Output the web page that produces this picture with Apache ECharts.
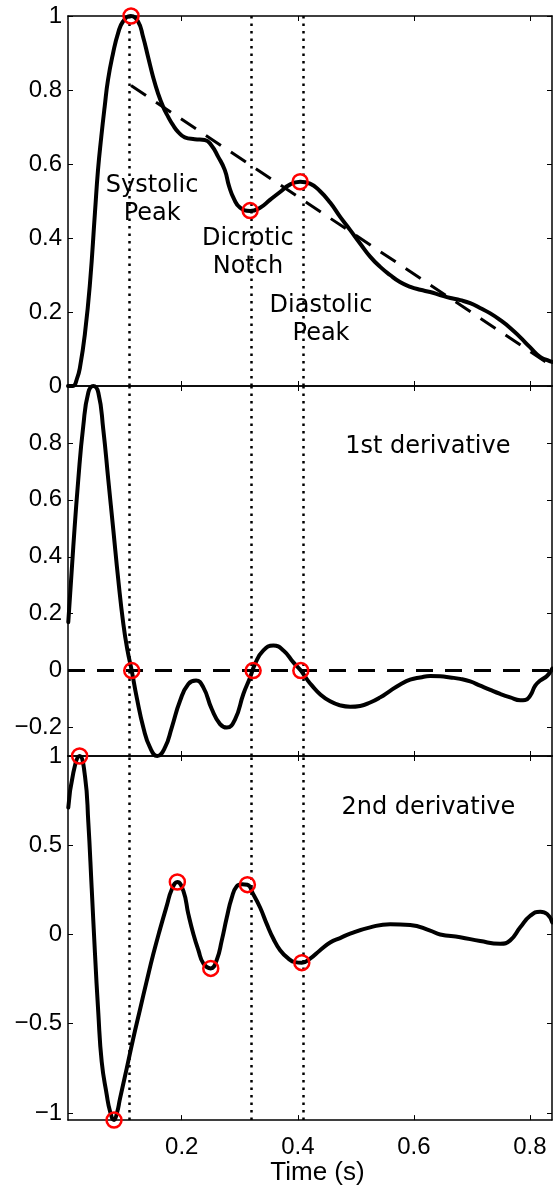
<!DOCTYPE html>
<html>
<head>
<meta charset="utf-8">
<title>PPG and derivatives</title>
<script src="https://cdn.jsdelivr.net/npm/echarts@6.0.0/dist/echarts.min.js"></script>
<style>
  body { margin: 0; background: #fff; }
  #main { width: 553px; height: 1187px; }
</style>
</head>
<body>
<div id="main"></div>
<script>
// 脉搏波 (归一化)
var ppg_t = [0.004, 0.0126, 0.0195, 0.0247, 0.0333, 0.0419, 0.0505, 0.0557, 0.0614, 0.0672, 0.0729, 0.0816,
    0.0902, 0.0988, 0.1121, 0.1247, 0.1333, 0.1419, 0.1505, 0.1591, 0.1678, 0.1764, 0.1850, 0.1936, 0.2052,
    0.2224, 0.2397, 0.2510, 0.2626, 0.2741, 0.2815, 0.2902, 0.3005, 0.3178,
    0.335, 0.352, 0.370, 0.387, 0.404, 0.421, 0.438, 0.456, 0.473, 0.490, 0.507, 0.525, 0.542, 0.559,
    0.576, 0.594, 0.611, 0.628, 0.645, 0.663, 0.680, 0.697, 0.714, 0.731, 0.749, 0.766, 0.783, 0.800, 0.818,
    0.830, 0.838];
var ppg_v = [0, 0.0, 0.02, 0.051, 0.143, 0.278, 0.47, 0.584, 0.674, 0.755, 0.827, 0.899,
    0.953, 0.985, 1.0, 0.985, 0.944, 0.890, 0.836, 0.791, 0.755, 0.728, 0.705, 0.687, 0.672,
    0.667, 0.665, 0.651, 0.620, 0.584, 0.54, 0.505, 0.482, 0.473,
    0.482, 0.503, 0.525, 0.545, 0.552, 0.547, 0.527, 0.495, 0.457, 0.422, 0.386, 0.349, 0.322, 0.300,
    0.281, 0.268, 0.260, 0.254, 0.246, 0.238, 0.232, 0.224, 0.211, 0.197, 0.178, 0.157, 0.132, 0.105, 0.078,
    0.070, 0.065];
// 下降趋势虚线
var trend_t = [0.1126, 0.838];
var trend_v = [0.812, 0.054];

// 一阶导数
var d1_t = [0.0045, 0.0131, 0.0217, 0.0303, 0.0390, 0.0476, 0.0562, 0.0648, 0.0734, 0.0821, 0.0907, 0.0993,
    0.1066, 0.1138, 0.1224, 0.1338, 0.1453, 0.1579, 0.1712, 0.1828, 0.1971, 0.2114, 0.2247, 0.2372, 0.2517,
    0.2660, 0.2776, 0.2919, 0.3062, 0.3178, 0.3264, 0.3407, 0.3579, 0.3752, 0.3924, 0.4052, 0.4155, 0.4241,
    0.4384, 0.4557, 0.4729, 0.4902, 0.5074, 0.5247, 0.5419, 0.5591, 0.5764, 0.5936, 0.6109, 0.6281, 0.6453,
    0.6626, 0.6798, 0.6971, 0.7143, 0.7316, 0.7488, 0.7660, 0.7833, 0.7919, 0.8005, 0.8091, 0.8178, 0.8298,
    0.8384];
var d1_v = [0.17, 0.435, 0.671, 0.859, 0.977, 1.0, 0.977, 0.847, 0.671, 0.494, 0.318, 0.165,
    0.07, 0, -0.094, -0.200, -0.270, -0.300, -0.270, -0.200, -0.106, -0.047, -0.035, -0.059, -0.135,
    -0.188, -0.200, -0.171, -0.082, -0.024, 0.024, 0.071, 0.088, 0.071, 0.029, 0, -0.030, -0.052,
    -0.083, -0.108, -0.122, -0.127, -0.124, -0.112, -0.094, -0.071, -0.049, -0.032, -0.024, -0.019, -0.020,
    -0.024, -0.029, -0.038, -0.053, -0.068, -0.082, -0.094, -0.104, -0.103, -0.088, -0.053, -0.035, -0.018,
    0.007];

// 二阶导数
var d2_t = [0.0045, 0.0131, 0.0240, 0.0333, 0.0390, 0.0448, 0.0505, 0.0562, 0.0621, 0.0707, 0.0764, 0.0833,
    0.0884, 0.0936, 0.1052, 0.1166, 0.1281, 0.1397, 0.1510, 0.1626, 0.1741, 0.1828, 0.1924, 0.2028, 0.2114,
    0.2200, 0.2286, 0.2372, 0.2500, 0.2603, 0.2690, 0.2776, 0.2862, 0.2948, 0.3040, 0.3131, 0.3234, 0.3350,
    0.3466, 0.3579, 0.3695, 0.3838, 0.3953, 0.4069, 0.4212, 0.4384, 0.4557, 0.4729, 0.4902, 0.5247, 0.5591,
    0.5936, 0.6281, 0.6453, 0.6798, 0.7143, 0.7488, 0.7660, 0.7833, 0.8005, 0.8178, 0.8298, 0.8384];
var d2_v = [0.711, 0.905, 1.0, 0.886, 0.629, 0.261, -0.107, -0.438, -0.714, -0.897, -0.99, -1.04,
    -1.0, -0.92, -0.75, -0.58, -0.42, -0.26, -0.11, 0.03, 0.16, 0.252, 0.294, 0.244, 0.114,
    0.003, -0.087, -0.162, -0.19, -0.143, -0.033, 0.095, 0.206, 0.27, 0.281, 0.279, 0.224, 0.151,
    0.058, -0.024, -0.088, -0.135, -0.155, -0.158, -0.135, -0.088, -0.045, -0.02, 0.005, 0.04, 0.058,
    0.053, 0.022, 0.0, -0.015, -0.037, -0.052, -0.033, 0.04, 0.105, 0.128, 0.114, 0.068];

// 竖点线 (收缩峰, 重搏切迹, 舒张峰)
var mark_t = [0.1126, 0.3172, 0.4062];

// 红圈
var ppg_pt_t = [0.1126, 0.3178, 0.404];
var ppg_pt_v = [1.0, 0.474, 0.552];
var d1_pt_t = [0.1138, 0.323, 0.4052];
var d1_pt_v = [0, 0, 0];
var d2_pt_t = [0.0240, 0.0833, 0.1924, 0.2500, 0.3131, 0.4069];
var d2_pt_v = [1.0, -1.04, 0.294, -0.19, 0.279, -0.158];

// 文字标注
var note_text = ['Systolic\nPeak', 'Dicrotic\nNotch', 'Diastolic\nPeak', '1st derivative', '2nd derivative'];
var note_panel = [0, 0, 0, 1, 2];
var note_t = [0.149, 0.314, 0.440, 0.624, 0.625];
var note_v = [0.503, 0.359, 0.180, 0.787, 0.708];

// 坐标轴
var x_range = [0.004, 0.838];
var x_ticks = [0.2, 0.4, 0.6, 0.8];
var y_ranges = [[0, 1], [-0.3, 1], [-1.04, 1]];
var y_ticks = [[0, 0.2, 0.4, 0.6, 0.8, 1], [-0.2, 0, 0.2, 0.4, 0.6, 0.8, 1], [-1, -0.5, 0, 0.5, 1]];
var y_labels = [[0, 0.2, 0.4, 0.6, 0.8, 1], [-0.2, 0, 0.2, 0.4, 0.6, 0.8], [-1, -0.5, 0, 0.5, 1]];

function pairs(t, v) {
    var out = [];
    for (var i = 0; i < t.length; i++) {
        out.push([t[i], v[i]]);
    }
    return out;
}

function fmt(val) {
    return String(val).replace('-', '\u2212');
}

var myChart = echarts.init(document.getElementById('main'));

var grids = [
    {left: 68, top: 16, width: 484, height: 370},
    {left: 68, top: 386, width: 484, height: 370},
    {left: 68, top: 756, width: 484, height: 371}
];

var xAxes = [];
var yAxes = [];
var positions = ['bottom', 'top'];
for (var p = 0; p < 2; p++) {
    for (var g = 0; g < 3; g++) {
        var showLab = (p == 0 && g == 2);
        xAxes.push({
            type: 'value',
            gridIndex: g,
            position: positions[p],
            min: x_range[0],
            max: x_range[1],
            axisLine: {show: true, onZero: false, lineStyle: {color: '#000', width: 1.5}},
            axisTick: {show: true, inside: true, length: 5, customValues: x_ticks, lineStyle: {color: '#000', width: 1}},
            axisLabel: {show: showLab, customValues: x_ticks, margin: 15, color: '#000',
                fontFamily: 'Liberation Sans', fontSize: 24, formatter: fmt},
            splitLine: {show: false},
            name: showLab ? 'Time (s)' : '',
            nameLocation: 'middle',
            nameGap: 31,
            nameTextStyle: {color: '#000', fontFamily: 'Liberation Sans', fontSize: 26, padding: [0, 0, 0, 15]}
        });
    }
}
var ypos = ['left', 'right'];
for (var p = 0; p < 2; p++) {
    for (var g = 0; g < 3; g++) {
        yAxes.push({
            type: 'value',
            gridIndex: g,
            position: ypos[p],
            min: y_ranges[g][0],
            max: y_ranges[g][1],
            axisLine: {show: true, onZero: false, lineStyle: {color: '#000', width: 1.5}},
            axisTick: {show: true, inside: true, length: 5, customValues: y_ticks[g], lineStyle: {color: '#000', width: 1}},
            axisLabel: {show: p == 0, customValues: y_labels[g], margin: 6, color: '#000',
                fontFamily: 'Liberation Sans', fontSize: 24, formatter: fmt},
            splitLine: {show: false}
        });
    }
}

var series = [];
var curves = [pairs(ppg_t, ppg_v), pairs(d1_t, d1_v), pairs(d2_t, d2_v)];
var circles = [pairs(ppg_pt_t, ppg_pt_v), pairs(d1_pt_t, d1_pt_v), pairs(d2_pt_t, d2_pt_v)];

for (var g = 0; g < 3; g++) {
    // 点线
    series.push({
        type: 'line',
        xAxisIndex: g,
        yAxisIndex: g,
        data: [],
        z: 1,
        silent: true,
        markLine: {
            silent: true,
            symbol: ['none', 'none'],
            label: {show: false},
            lineStyle: {color: '#000', type: [2.5, 5], width: 2.5},
            data: mark_t.map(function (t) { return {xAxis: t}; })
        }
    });
    // 曲线
    series.push({
        type: 'line',
        xAxisIndex: g,
        yAxisIndex: g,
        data: curves[g],
        smooth: 0.5,
        showSymbol: false,
        clip: false,
        z: 4,
        lineStyle: {color: '#000', width: 4, cap: 'round', join: 'round'}
    });
    // 红圈
    series.push({
        type: 'scatter',
        xAxisIndex: g,
        yAxisIndex: g,
        data: circles[g],
        symbol: 'circle',
        symbolSize: 15,
        clip: false,
        z: 6,
        itemStyle: {color: 'rgba(0,0,0,0)', borderColor: '#ff0000', borderWidth: 2.5, opacity: 1}
    });
}

// 虚线
series.push({
    type: 'line',
    xAxisIndex: 0,
    yAxisIndex: 0,
    data: pairs(trend_t, trend_v),
    showSymbol: false,
    z: 3,
    lineStyle: {color: '#000', width: 3, type: [18, 12]}
});
series.push({
    type: 'line',
    xAxisIndex: 1,
    yAxisIndex: 1,
    data: [[x_range[0], 0], [x_range[1], 0]],
    showSymbol: false,
    z: 3,
    lineStyle: {color: '#000', width: 3, type: [17, 12]}
});

// 标注文字
for (var i = 0; i < note_text.length; i++) {
    series.push({
        type: 'scatter',
        xAxisIndex: note_panel[i],
        yAxisIndex: note_panel[i],
        data: [{value: [note_t[i], note_v[i]], name: note_text[i]}],
        symbolSize: 0,
        z: 2,
        silent: true,
        itemStyle: {opacity: 1},
        label: {
            show: true,
            position: 'inside',
            formatter: '{b}',
            color: '#000',
            opacity: 1,
            fontFamily: 'DejaVu Sans',
            fontSize: 24,
            lineHeight: 28,
            align: 'center',
            backgroundColor: '#fff',
            padding: [0, 2]
        }
    });
}

var option = {
    animation: false,
    backgroundColor: '#fff',
    grid: grids,
    xAxis: xAxes,
    yAxis: yAxes,
    series: series
};
myChart.setOption(option);
</script>
</body>
</html>
